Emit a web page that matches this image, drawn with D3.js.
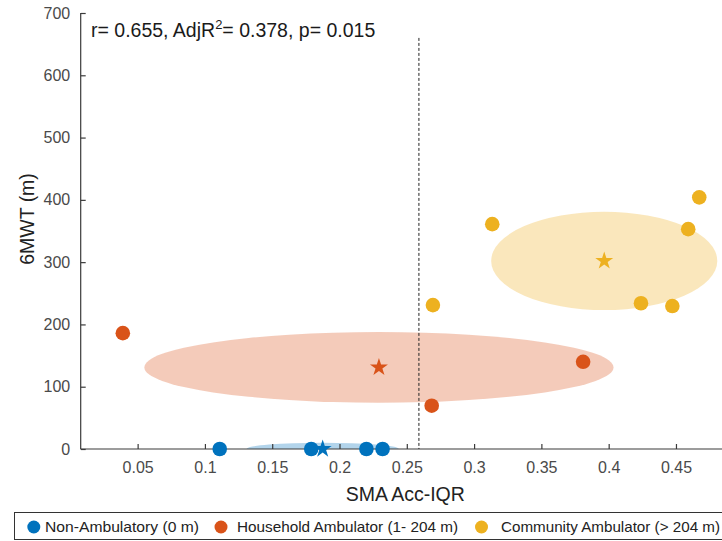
<!DOCTYPE html>
<html>
<head>
<meta charset="utf-8">
<script src="https://cdn.jsdelivr.net/npm/d3@7"></script>
<style>
  html, body { margin: 0; padding: 0; background: #fff; }
  svg { display: block; font-family: "Liberation Sans", Arial, sans-serif; }
</style>
</head>
<body>
<svg id="chart" width="722" height="541"></svg>
<script>
// Walking groups
const categories = ["Non-Ambulatory  (0 m)", "Household Ambulator (1- 204 m)", "Community Ambulator (> 204 m)"];
const colors = ["#0072BD", "#D95319", "#EDB120"];

// Per-subject values: SMA Acc-IQR (x) and 6MWT distance in metres (y)
const nonAmbX = [0.111, 0.179, 0.220, 0.232];
const nonAmbY = [0, 0, 0, 0];
const householdX = [0.039, 0.2685, 0.381];
const householdY = [186, 69.5, 140];
const communityX = [0.2694, 0.3135, 0.424, 0.4473, 0.4591, 0.4673];
const communityY = [231, 361, 234, 229.5, 353, 404];

// Group centres and spread (ellipse half-axes)
const centreX = [0.1875, 0.2293, 0.3967];
const centreY = [0, 131, 302];
const spreadX = [0.0565, 0.1743, 0.084];
const spreadY = [10, 56.8, 79];

// Axis ticks and threshold
const xTicks = [0.05, 0.1, 0.15, 0.2, 0.25, 0.3, 0.35, 0.4, 0.45];
const yTicks = [0, 100, 200, 300, 400, 500, 600, 700];
const thresholdX = 0.259;
const thresholdTop = 660;
const statsText = { r: "0.655", adjR2: "0.378", p: "0.015" };

const groups = [
  { xs: nonAmbX, ys: nonAmbY },
  { xs: householdX, ys: householdY },
  { xs: communityX, ys: communityY }
];

const svg = d3.select("#chart");
const plotLeft = 80.7, plotBottom = 449, plotTop = 13;
const x = d3.scaleLinear().domain([0.0077, 0.49]).range([plotLeft, 729.8]);
const y = d3.scaleLinear().domain([0, 700]).range([plotBottom, plotTop]);

svg.append("defs").append("clipPath").attr("id", "plotClip")
  .append("rect").attr("x", plotLeft).attr("y", plotTop)
  .attr("width", x(0.49) - plotLeft).attr("height", plotBottom - plotTop);

// Spread ellipses
const ell = svg.append("g").attr("clip-path", "url(#plotClip)");
centreX.forEach((cx, i) => {
  ell.append("ellipse")
    .attr("cx", x(cx)).attr("cy", y(centreY[i]))
    .attr("rx", x(cx + spreadX[i]) - x(cx))
    .attr("ry", y(0) - y(spreadY[i]))
    .attr("fill", colors[i]).attr("fill-opacity", 0.3);
});

// Axes
const axisColor = "#3a3a3a";
const xAxis = svg.append("g").attr("transform", `translate(0,${plotBottom})`)
  .call(d3.axisBottom(x).tickValues(xTicks).tickSizeInner(-5).tickSizeOuter(0)
    .tickFormat(d => String(+d.toFixed(2))));
const yAxis = svg.append("g").attr("transform", `translate(${plotLeft},0)`)
  .call(d3.axisLeft(y).tickValues(yTicks).tickSizeInner(-5).tickSizeOuter(0));
[xAxis, yAxis].forEach(g => {
  g.select(".domain").attr("stroke", axisColor).attr("stroke-width", 1.2);
  g.selectAll(".tick line").attr("stroke", axisColor).attr("stroke-width", 1.2);
  g.selectAll(".tick text").attr("fill", "#4a4a4a")
    .style("font-size", "16px").style("font-family", "'Liberation Sans', Arial, sans-serif");
});
xAxis.selectAll(".tick text").attr("y", 12.5).attr("dy", "0.71em");
yAxis.selectAll(".tick text").attr("x", -10.5);
yAxis.select(".domain").attr("d", `M0,${y(700)}V${plotBottom}`);
xAxis.select(".domain").attr("d", `M${plotLeft},0H${x(0.49)}`);

// Threshold line
svg.append("line")
  .attr("x1", x(thresholdX)).attr("x2", x(thresholdX))
  .attr("y1", y(thresholdTop)).attr("y2", y(0))
  .attr("stroke", "#222").attr("stroke-width", 1).attr("stroke-dasharray", "3,2");

// Subject points
const pts = svg.append("g");
groups.forEach((g, i) => {
  pts.selectAll(null).data(g.xs.map((v, k) => [v, g.ys[k]])).enter()
    .append("circle")
    .attr("cx", d => x(d[0])).attr("cy", d => y(d[1]))
    .attr("r", 7.3).attr("fill", colors[i]);
});

// Group centre stars
const star = d3.symbol().type(d3.symbolStar).size(100);
centreX.forEach((cx, i) => {
  pts.append("path").attr("d", star())
    .attr("transform", `translate(${x(cx)},${y(centreY[i])})`)
    .attr("fill", colors[i]);
});

// Statistics annotation
const st = svg.append("text").attr("x", 91).attr("y", 37)
  .attr("fill", "#1a1a1a").style("font-size", "19.5px");
st.append("tspan").text(`r= ${statsText.r}, AdjR`);
st.append("tspan").attr("dy", -8).style("font-size", "13px").text("2");
st.append("tspan").attr("dy", 8).text(`= ${statsText.adjR2}, p= ${statsText.p}`);

// Axis titles
svg.append("text").attr("x", (plotLeft + x(0.49)) / 2).attr("y", 501)
  .attr("text-anchor", "middle").attr("fill", "#222").style("font-size", "19.5px")
  .text("SMA Acc-IQR");
svg.append("text").attr("transform", "translate(34,219) rotate(-90)")
  .attr("text-anchor", "middle").attr("fill", "#222").style("font-size", "19.5px")
  .text("6MWT (m)");

// Legend
const lg = svg.append("g");
lg.append("rect").attr("x", 14.5).attr("y", 512.5).attr("width", 720).attr("height", 27)
  .attr("fill", "#fff").attr("stroke", "#333").attr("stroke-width", 1);
const legendDotX = [33.8, 221, 481.5];
const legendTextX = [45, 237, 501];
const legendTextW = [154, 221, 219];
categories.forEach((c, i) => {
  lg.append("circle").attr("cx", legendDotX[i]).attr("cy", 527).attr("r", 6.5).attr("fill", colors[i]);
  lg.append("text").attr("x", legendTextX[i]).attr("y", 532)
    .attr("fill", "#222").style("font-size", "15px")
    .attr("textLength", legendTextW[i]).attr("lengthAdjust", "spacingAndGlyphs")
    .text(c);
});
</script>
</body>
</html>
